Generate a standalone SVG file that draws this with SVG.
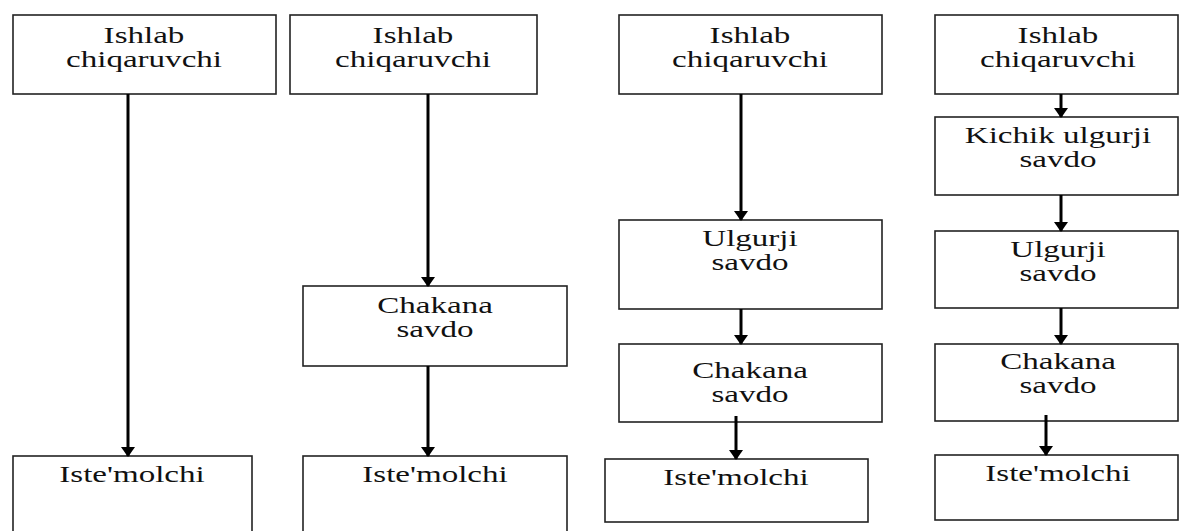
<svg xmlns="http://www.w3.org/2000/svg" width="1189" height="531" viewBox="0 0 1189 531">
<style>
.box{fill:#fff;stroke:#222;stroke-width:1.6}
.t{font-family:"Liberation Serif","Times New Roman",serif;font-size:22.5px;fill:#111;text-anchor:middle}
.c{stroke:#000;stroke-width:3;fill:none;marker-end:url(#ah)}
</style>
<defs>
<marker id="ah" viewBox="0 0 10 14" refX="9" refY="7" markerWidth="10" markerHeight="14" markerUnits="userSpaceOnUse" orient="auto">
<path d="M0,0 L10,7 L0,14 z" fill="#000"/>
</marker>
</defs>
<rect width="1189" height="531" fill="#fff"/>
<!-- Column 1 -->
<g id="c1-producer"><rect class="box" x="13" y="15" width="263" height="79"/>
<text class="t" transform="translate(144,43) scale(1.47,1)">Ishlab</text>
<text class="t" transform="translate(144,67) scale(1.47,1)">chiqaruvchi</text></g>
<g id="c1-consumer"><rect class="box" x="13" y="456" width="239" height="80"/>
<text class="t" transform="translate(132,482) scale(1.47,1)">Iste'molchi</text></g>
<!-- Column 2 -->
<g id="c2-producer"><rect class="box" x="290" y="15" width="247" height="79"/>
<text class="t" transform="translate(413,43) scale(1.47,1)">Ishlab</text>
<text class="t" transform="translate(413,67) scale(1.47,1)">chiqaruvchi</text></g>
<g id="c2-retail"><rect class="box" x="303" y="286" width="264" height="80"/>
<text class="t" transform="translate(435,313) scale(1.47,1)">Chakana</text>
<text class="t" transform="translate(435,337) scale(1.47,1)">savdo</text></g>
<g id="c2-consumer"><rect class="box" x="303" y="456" width="264" height="80"/>
<text class="t" transform="translate(435,482) scale(1.47,1)">Iste'molchi</text></g>
<!-- Column 3 -->
<g id="c3-producer"><rect class="box" x="619" y="15" width="263" height="79"/>
<text class="t" transform="translate(750,43) scale(1.47,1)">Ishlab</text>
<text class="t" transform="translate(750,67) scale(1.47,1)">chiqaruvchi</text></g>
<g id="c3-wholesale"><rect class="box" x="619" y="220" width="263" height="89"/>
<text class="t" transform="translate(750,246) scale(1.47,1)">Ulgurji</text>
<text class="t" transform="translate(750,270) scale(1.47,1)">savdo</text></g>
<g id="c3-retail"><rect class="box" x="619" y="344" width="263" height="78"/>
<text class="t" transform="translate(750,378) scale(1.47,1)">Chakana</text>
<text class="t" transform="translate(750,402) scale(1.47,1)">savdo</text></g>
<g id="c3-consumer"><rect class="box" x="605" y="459" width="263" height="63"/>
<text class="t" transform="translate(736,485) scale(1.47,1)">Iste'molchi</text></g>
<!-- Column 4 -->
<g id="c4-producer"><rect class="box" x="935" y="15" width="243" height="79"/>
<text class="t" transform="translate(1058,43) scale(1.47,1)">Ishlab</text>
<text class="t" transform="translate(1058,67) scale(1.47,1)">chiqaruvchi</text></g>
<g id="c4-small-wholesale"><rect class="box" x="935" y="117" width="243" height="78"/>
<text class="t" transform="translate(1058,143) scale(1.47,1)">Kichik ulgurji</text>
<text class="t" transform="translate(1058,167) scale(1.47,1)">savdo</text></g>
<g id="c4-wholesale"><rect class="box" x="935" y="231" width="243" height="77"/>
<text class="t" transform="translate(1058,257) scale(1.47,1)">Ulgurji</text>
<text class="t" transform="translate(1058,281) scale(1.47,1)">savdo</text></g>
<g id="c4-retail"><rect class="box" x="935" y="344" width="243" height="77"/>
<text class="t" transform="translate(1058,369) scale(1.47,1)">Chakana</text>
<text class="t" transform="translate(1058,393) scale(1.47,1)">savdo</text></g>
<g id="c4-consumer"><rect class="box" x="935" y="455" width="243" height="65"/>
<text class="t" transform="translate(1058,481) scale(1.47,1)">Iste'molchi</text></g>
<!-- Connectors -->
<g id="connectors">
<line class="c" x1="128" y1="94" x2="128" y2="456"/>
<line class="c" x1="428" y1="94" x2="428" y2="286"/>
<line class="c" x1="428" y1="366" x2="428" y2="456"/>
<line class="c" x1="741" y1="94" x2="741" y2="220"/>
<line class="c" x1="741" y1="309" x2="741" y2="344"/>
<line class="c" x1="736" y1="416" x2="736" y2="459"/>
<line class="c" x1="1061" y1="94" x2="1061" y2="117"/>
<line class="c" x1="1061" y1="195" x2="1061" y2="231"/>
<line class="c" x1="1061" y1="308" x2="1061" y2="344"/>
<line class="c" x1="1046" y1="415" x2="1046" y2="455"/>
</g>
</svg>
